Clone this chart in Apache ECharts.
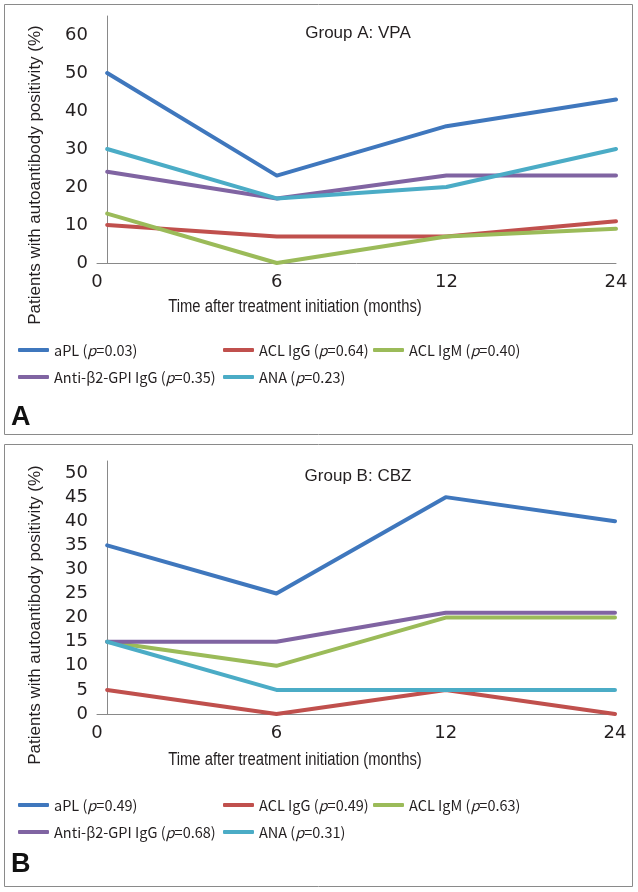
<!DOCTYPE html>
<html><head><meta charset="utf-8">
<script src="https://cdn.jsdelivr.net/npm/echarts@6/dist/echarts.min.js"></script>
<style>html,body{margin:0;padding:0;background:#fff}#c{width:638px;height:892px}</style>
</head><body><div id="c"></div>
<script>
// ---- data ----
const xLabels = ['0', '6', '12', '24'];
const seriesNamesA = ['aPL (p=0.03)', 'ACL IgG (p=0.64)', 'ACL IgM (p=0.40)', 'Anti-β2-GPI IgG (p=0.35)', 'ANA (p=0.23)'];
const seriesNamesB = ['aPL (p=0.49)', 'ACL IgG (p=0.49)', 'ACL IgM (p=0.63)', 'Anti-β2-GPI IgG (p=0.68)', 'ANA (p=0.31)'];
const aplA = [50, 23, 36, 43];
const aclIgGA = [10, 7, 7, 11];
const aclIgMA = [13, 0, 7, 9];
const b2gpiA = [24, 17, 23, 23];
const anaA = [30, 17, 20, 30];
const aplB = [35, 25, 45, 40];
const aclIgGB = [5, 0, 5, 0];
const aclIgMB = [15, 10, 20, 20];
const b2gpiB = [15, 15, 21, 21];
const anaB = [15, 5, 5, 5];
const yTicksA = [0, 10, 20, 30, 40, 50, 60];
const yTicksB = [0, 5, 10, 15, 20, 25, 30, 35, 40, 45, 50];

const colors = ['#3F77BD', '#C0504D', '#9BBB59', '#8064A2', '#4BACC6'];
const FONT = '"Liberation Sans", sans-serif';
const LFONT = '"Noto Sans CJK KR", "Liberation Sans", sans-serif';
const NUMFONT = '"DejaVu Sans", sans-serif';
const TXT = '#231F20';
const AX = '#898989';
const X0 = -0.06;

const chart = echarts.init(document.getElementById('c'), null, {renderer: 'canvas'});

function mkSeries(names, arrays, gi) {
  return arrays.map((arr, i) => ({
    type: 'line', name: names[i], xAxisIndex: gi, yAxisIndex: gi,
    data: arr.map((v, k) => [k, v]),
    showSymbol: false, symbol: 'none',
    lineStyle: {width: 4, color: colors[i], cap: 'round', join: 'round'},
    itemStyle: {color: colors[i]},
    emphasis: {disabled: true}, animation: false
  }));
}

function xAxis(gi) {
  const vals = xLabels.map((_, k) => k === 0 ? X0 : k);
  return {
    gridIndex: gi, type: 'value', min: X0, max: xLabels.length - 1,
    axisLine: {lineStyle: {color: AX, width: 1}},
    axisTick: {show: false}, splitLine: {show: false},
    axisLabel: {customValues: vals, margin: 10, color: TXT, fontFamily: NUMFONT, fontSize: 18,
      formatter: v => xLabels[Math.round(v)]}
  };
}
function yAxis(gi, ticks, max) {
  return {
    gridIndex: gi, type: 'value', min: 0, max: max,
    axisLine: {show: true, lineStyle: {color: AX, width: 1}},
    axisTick: {show: false}, splitLine: {show: false},
    axisLabel: {customValues: ticks, margin: 9, color: TXT, fontFamily: NUMFONT, fontSize: 18}
  };
}

function legends(names, rowTops) {
  const lefts = [18, 223, 373, 18, 223];
  return names.map((n, i) => ({
    data: [n], left: lefts[i], top: rowTops[i < 3 ? 0 : 1], padding: 0,
    icon: 'roundRect', itemWidth: 31, itemHeight: 4, selectedMode: false,
    formatter: s => s.replace('(p=', '({i|p}='),
    textStyle: {color: TXT, fontFamily: LFONT, fontSize: 14.5, lineHeight: 20,
      rich: {i: {fontStyle: 'italic', fontFamily: LFONT, fontSize: 14.5, lineHeight: 20, color: TXT}}}
  }));
}

function txt(x, y, s, extra) {
  return Object.assign({type: 'text', x: x, y: y, silent: true,
    style: {text: s, fill: TXT, font: '17px ' + FONT, align: 'center', verticalAlign: 'middle'}}, extra || {});
}

const option = {
  animation: false,
  grid: [
    {left: 97, top: 16, width: 519, height: 247},
    {left: 97, top: 461, width: 518, height: 253}
  ],
  xAxis: [xAxis(0), xAxis(1)],
  yAxis: [yAxis(0, yTicksA, 65), yAxis(1, yTicksB, 52.5)],
  legend: legends(seriesNamesA, [340, 367]).concat(legends(seriesNamesB, [795, 822])),
  series: mkSeries(seriesNamesA, [aplA, aclIgGA, aclIgMA, b2gpiA, anaA], 0)
    .concat(mkSeries(seriesNamesB, [aplB, aclIgGB, aclIgMB, b2gpiB, anaB], 1)),
  graphic: [
    {type: 'rect', shape: {x: 4.5, y: 4.5, width: 628, height: 430}, style: {fill: 'none', stroke: '#8a8a8a', lineWidth: 1}, silent: true},
    {type: 'rect', shape: {x: 4.5, y: 444.5, width: 628, height: 442}, style: {fill: 'none', stroke: '#8a8a8a', lineWidth: 1}, silent: true},
    txt(358, 33, 'Group A: VPA'),
    txt(358, 476, 'Group B: CBZ'),
    txt(295, 307, 'Time after treatment initiation (months)', {scaleX: 0.87, scaleY: 1.05}),
    txt(295, 760, 'Time after treatment initiation (months)', {scaleX: 0.87, scaleY: 1.05}),
    {type: 'text', x: 35, y: 175, rotation: Math.PI / 2, silent: true,
      style: {text: 'Patients with autoantibody positivity (%)', fill: TXT, font: '17px ' + FONT, align: 'center', verticalAlign: 'middle'}},
    {type: 'text', x: 35, y: 615, rotation: Math.PI / 2, silent: true,
      style: {text: 'Patients with autoantibody positivity (%)', fill: TXT, font: '17px ' + FONT, align: 'center', verticalAlign: 'middle'}},
    {type: 'text', x: 11, y: 418, silent: true, style: {text: 'A', fill: '#111', font: 'bold 27px "Liberation Sans", sans-serif', align: 'left', verticalAlign: 'middle'}},
    {type: 'text', x: 11, y: 865, silent: true, style: {text: 'B', fill: '#111', font: 'bold 27px "Liberation Sans", sans-serif', align: 'left', verticalAlign: 'middle'}}
  ]
};
chart.setOption(option);
</script>
</body></html>
